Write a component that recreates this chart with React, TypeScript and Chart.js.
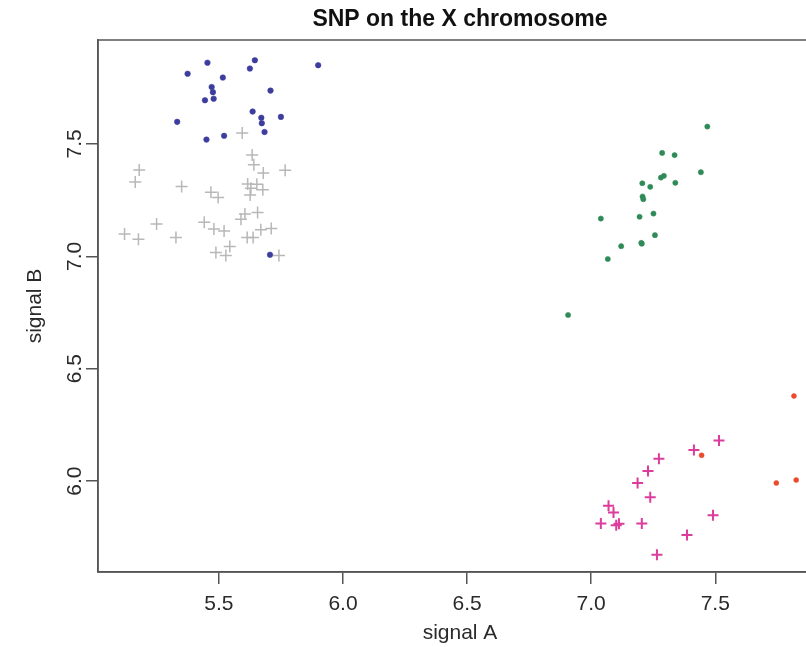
import React, { useEffect, useRef } from "react";
import { Chart, registerables } from "chart.js";

Chart.register(...registerables);

// ---- axes ----
const xTicks = [5.5, 6.0, 6.5, 7.0, 7.5];
const yTicks = [6.0, 6.5, 7.0, 7.5];
const xRange = [5.013, 7.93];
const yRange = [5.596, 7.962];

// ---- series: blue dots ----
const blueA = [5.454, 5.645, 5.9, 5.374, 5.625, 5.516, 5.471, 5.476, 5.479, 5.444, 5.708, 5.332, 5.636, 5.671, 5.673, 5.75, 5.684, 5.45, 5.521, 5.706];
const blueB = [7.861, 7.872, 7.85, 7.812, 7.835, 7.795, 7.753, 7.73, 7.701, 7.694, 7.737, 7.598, 7.644, 7.616, 7.592, 7.62, 7.553, 7.519, 7.536, 7.007];

// ---- series: gray crosses ----
const grayA = [5.594, 5.634, 5.641, 5.679, 5.767, 5.179, 5.163, 5.35, 5.468, 5.497, 5.616, 5.653, 5.629, 5.677, 5.626, 5.656, 5.605, 5.589, 5.249, 5.441, 5.48, 5.521, 5.669, 5.711, 5.12, 5.176, 5.327, 5.614, 5.638, 5.544, 5.488, 5.528, 5.742];
const grayB = [7.548, 7.451, 7.407, 7.37, 7.383, 7.384, 7.331, 7.31, 7.285, 7.261, 7.322, 7.321, 7.303, 7.296, 7.273, 7.195, 7.188, 7.165, 7.144, 7.152, 7.121, 7.113, 7.118, 7.124, 7.099, 7.076, 7.084, 7.084, 7.084, 7.044, 7.017, 7.004, 7.004];

// ---- series: green dots ----
const greenA = [7.468, 7.286, 7.336, 7.442, 7.281, 7.293, 7.206, 7.238, 7.339, 7.207, 7.21, 7.039, 7.195, 7.251, 7.257, 7.121, 7.202, 7.204, 7.067, 6.907];
const greenB = [7.577, 7.46, 7.45, 7.374, 7.35, 7.358, 7.325, 7.309, 7.327, 7.266, 7.254, 7.168, 7.176, 7.19, 7.094, 7.045, 7.06, 7.056, 6.988, 6.739];

// ---- series: magenta crosses ----
const magentaA = [7.515, 7.414, 7.273, 7.229, 7.187, 7.238, 7.07, 7.09, 7.039, 7.101, 7.112, 7.204, 7.491, 7.386, 7.265];
const magentaB = [6.181, 6.139, 6.1, 6.045, 5.992, 5.928, 5.891, 5.861, 5.812, 5.804, 5.811, 5.812, 5.848, 5.761, 5.673];

// ---- series: red dots ----
const redA = [7.817, 7.445, 7.746, 7.826];
const redB = [6.379, 6.115, 5.992, 6.005];

const titleText = "SNP on the X chromosome";
const xLabel = "signal A";
const yLabel = "signal B";

const FONT = "'Liberation Sans', Arial, Helvetica, sans-serif";
const TEXT = "#2a2a2a";
const AXIS = "#555555";

function pts(xs: number[], ys: number[]) {
  return xs.map((x, i) => ({ x, y: ys[i] }));
}

export default function App() {
  const ref = useRef<HTMLCanvasElement>(null);

  useEffect(() => {
    if (!ref.current) return;

    const framePlugin = {
      id: "frame",
      afterDatasetsDraw(chart: any) {
        const { ctx, chartArea } = chart;
        ctx.save();
        ctx.strokeStyle = AXIS;
        ctx.lineWidth = 1.5;
        ctx.strokeRect(chartArea.left, chartArea.top, chartArea.right - chartArea.left, chartArea.bottom - chartArea.top);
        ctx.restore();
      },
      afterDraw(chart: any) {
        const { ctx, chartArea } = chart;
        ctx.save();
        // main title
        ctx.fillStyle = "#111";
        ctx.font = `bold 23px ${FONT}`;
        ctx.textAlign = "center";
        ctx.textBaseline = "alphabetic";
        ctx.fillText(titleText, (chartArea.left + chartArea.right) / 2, 26);
        // rotated y tick labels
        const ys = chart.scales.y;
        ctx.fillStyle = TEXT;
        ctx.font = `21px ${FONT}`;
        ys.ticks.forEach((t: any) => {
          const py = ys.getPixelForValue(t.value);
          ctx.save();
          ctx.translate(chartArea.left - 17, py);
          ctx.rotate(-Math.PI / 2);
          ctx.textAlign = "center";
          ctx.textBaseline = "alphabetic";
          ctx.fillText(Number(t.value).toFixed(1), 0, 0);
          ctx.restore();
        });
        ctx.restore();
      },
    };

    const chart = new Chart(ref.current, {
      type: "scatter",
      data: {
        datasets: [
          {
            label: "gray",
            data: pts(grayA, grayB),
            pointStyle: "cross",
            pointRadius: 6,
            borderColor: "#b8b8b8",
            backgroundColor: "#b8b8b8",
            borderWidth: 1.5,
            order: 5,
          },
          {
            label: "blue",
            data: pts(blueA, blueB),
            pointStyle: "circle",
            pointRadius: 2.8,
            borderColor: "#3d3d9e",
            backgroundColor: "#3d3d9e",
            borderWidth: 0.5,
            order: 4,
          },
          {
            label: "green",
            data: pts(greenA, greenB),
            pointStyle: "circle",
            pointRadius: 2.6,
            borderColor: "#2f8a58",
            backgroundColor: "#2f8a58",
            borderWidth: 0.5,
            order: 3,
          },
          {
            label: "magenta",
            data: pts(magentaA, magentaB),
            pointStyle: "cross",
            pointRadius: 5.5,
            borderColor: "#dc3c9c",
            backgroundColor: "#dc3c9c",
            borderWidth: 2,
            order: 2,
          },
          {
            label: "red",
            data: pts(redA, redB),
            pointStyle: "circle",
            pointRadius: 2.5,
            borderColor: "#ec4a2c",
            backgroundColor: "#ec4a2c",
            borderWidth: 0.5,
            order: 1,
          },
        ],
      },
      options: {
        responsive: false,
        animation: false,
        devicePixelRatio: 1,
        layout: { padding: { top: 40, right: 8, left: 0, bottom: 0 } },
        plugins: {
          legend: { display: false },
          tooltip: { enabled: false },
          title: { display: false },
        },
        scales: {
          x: {
            type: "linear",
            min: xRange[0],
            max: xRange[1],
            afterBuildTicks: (s: any) => {
              s.ticks = xTicks.map((v) => ({ value: v }));
            },
            afterFit: (s: any) => {
              s.height = 75;
            },
            grid: { drawOnChartArea: false, drawTicks: true, tickLength: 12, color: AXIS, lineWidth: 1.5 },
            border: { display: true, color: AXIS, width: 1.5 },
            ticks: {
              color: TEXT,
              font: { family: FONT, size: 21 },
              padding: 8,
              maxRotation: 0,
              autoSkip: false,
              callback: (v: any) => Number(v).toFixed(1),
            },
            title: {
              display: true,
              text: xLabel,
              color: TEXT,
              font: { family: FONT, size: 21 },
              padding: { top: 0, bottom: 1 },
            },
          },
          y: {
            type: "linear",
            min: yRange[0],
            max: yRange[1],
            afterBuildTicks: (s: any) => {
              s.ticks = yTicks.map((v) => ({ value: v }));
            },
            afterFit: (s: any) => {
              s.width = 98;
            },
            grid: { drawOnChartArea: false, drawTicks: true, tickLength: 12, color: AXIS, lineWidth: 1.5 },
            border: { display: true, color: AXIS, width: 1.5 },
            ticks: { display: false },
            title: {
              display: true,
              text: yLabel,
              color: TEXT,
              font: { family: FONT, size: 21 },
              padding: { top: 23, bottom: 0 },
            },
          },
        },
      },
      plugins: [framePlugin],
    } as any);

    return () => chart.destroy();
  }, []);

  return (
    <div
      style={{
        position: "fixed",
        left: 0,
        top: 0,
        width: 806,
        height: 647,
        overflow: "hidden",
        background: "#ffffff",
      }}
    >
      <canvas ref={ref} width={830} height={647} style={{ display: "block", width: 830, height: 647 }} />
    </div>
  );
}
